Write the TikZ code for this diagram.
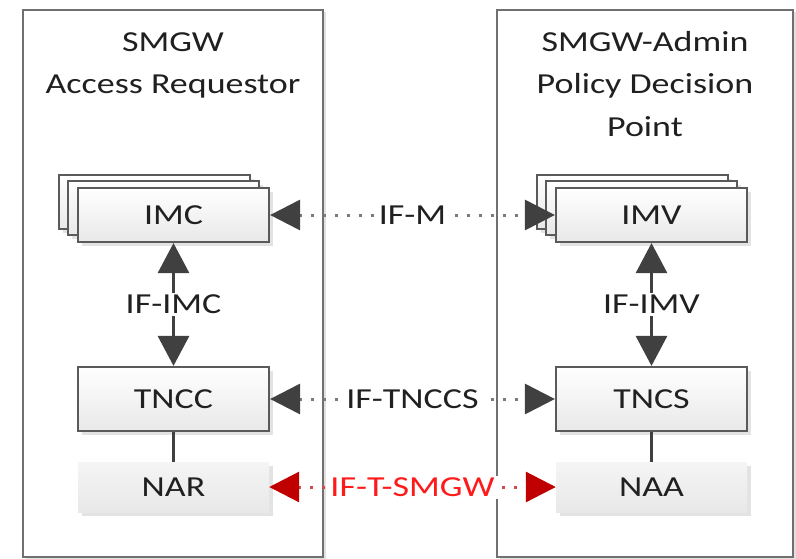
\documentclass[tikz,border=0pt]{standalone}
\usepackage{fontspec}
\setmainfont{Carlito}[FakeStretch=1.24]
\usetikzlibrary{arrows.meta,shadows}
\definecolor{txt}{HTML}{202020}
\definecolor{arr}{HTML}{404040}
\definecolor{dotc}{HTML}{7A7A7A}
\definecolor{redtip}{HTML}{C00000}
\definecolor{redtxt}{HTML}{FF1A1A}
\definecolor{reddot}{HTML}{D84848}
\definecolor{boxline}{HTML}{5A5A5A}
\definecolor{bigline}{HTML}{707070}
\begin{document}
\begin{tikzpicture}[x=1pt,y=-1pt,
  every node/.style={font=\fontsize{29}{35}\selectfont, text=txt, inner sep=0pt},
  bigbox/.style={draw=bigline, line width=2.4pt, fill=white,
    minimum width=300pt, minimum height=547pt,
    drop shadow={shadow xshift=3pt, shadow yshift=-2pt, fill=black!15, opacity=.8}},
  compbox/.style={draw=boxline, line width=2.2pt, top color=white, bottom color=black!9,
    minimum width=191pt, minimum height=54pt,
    drop shadow={shadow xshift=4pt, shadow yshift=-4pt, fill=black!12, opacity=.9}},
  plainbox/.style={top color=white!96!black, bottom color=black!9,
    minimum width=191pt, minimum height=50pt,
    drop shadow={shadow xshift=4pt, shadow yshift=-4pt, fill=black!12, opacity=.9}},
  title/.style={anchor=base},
  lbl/.style={fill=white, inner xsep=3pt, inner ysep=2pt},
  solidarrow/.style={draw=arr, line width=3pt,
    {Triangle[length=30pt,width=31pt]}-{Triangle[length=30pt,width=31pt]}},
  dotarrow/.style={draw=dotc, line width=3pt, dash pattern=on 3pt off 9pt,
    {Triangle[length=30pt,width=30pt,color=arr]}-{Triangle[length=30pt,width=30pt,color=arr]}},
  redarrow/.style={draw=reddot, line width=3pt, dash pattern=on 3pt off 9pt,
    {Triangle[length=30pt,width=30pt,color=redtip]}-{Triangle[length=30pt,width=30pt,color=redtip]}},
  link/.style={draw=arr, line width=3pt}
]
\useasboundingbox (0,0) rectangle (796,558);

% outer boxes
\node[bigbox] (AR) at (173,283.5) {};
\node[bigbox, minimum width=296pt] (PDP) at (645,283.5) {};

% titles
\node[title] (ar1) at (173,51) {SMGW};
\node[title] (ar2) at (173,93) {Access Requestor};
\node[title] (pd1) at (645,51) {SMGW-Admin};
\node[title] (pd2) at (645,93) {Policy Decision};
\node[title] (pd3) at (645,136) {Point};

% stacked IMC
\node[compbox] (IMCb) at (154.5,202) {};
\node[compbox] (IMCm) at (163.5,208) {};
\node[compbox] (IMC) at (173.5,215) {IMC};

% stacked IMV
\node[compbox] (IMVb) at (632.5,202) {};
\node[compbox] (IMVm) at (641.5,208) {};
\node[compbox] (IMV) at (651.5,215) {IMV};

% TNCC / TNCS
\node[compbox, minimum height=64pt] (TNCC) at (173.5,399) {TNCC};
\node[compbox, minimum height=64pt] (TNCS) at (651.5,399) {TNCS};

% NAR / NAA
\node[plainbox] (NAR) at (173.5,487) {NAR};
\node[plainbox] (NAA) at (651.5,487) {NAA};

% vertical connectors
\draw[solidarrow] (IMC) -- (TNCC) node[midway, lbl] (ifimc) {IF-IMC};
\draw[solidarrow] (IMV) -- (TNCS) node[midway, lbl] (ifimv) {IF-IMV};
\draw[link] (TNCC.south) -- (NAR.north);
\draw[link] (TNCS.south) -- (NAA.north);

% horizontal connectors
\draw[dotarrow] (IMC.east) -- (IMV.west) node[midway, lbl] (ifm) {IF-M};
\draw[dotarrow] (TNCC.east) -- (TNCS.west) node[midway, lbl] (iftnccs) {IF-TNCCS};
\draw[redarrow] (NAR.east) -- (NAA.west) node[midway, lbl, text=redtxt] (iftsmgw) {IF-T-SMGW};
\end{tikzpicture}
\end{document}
